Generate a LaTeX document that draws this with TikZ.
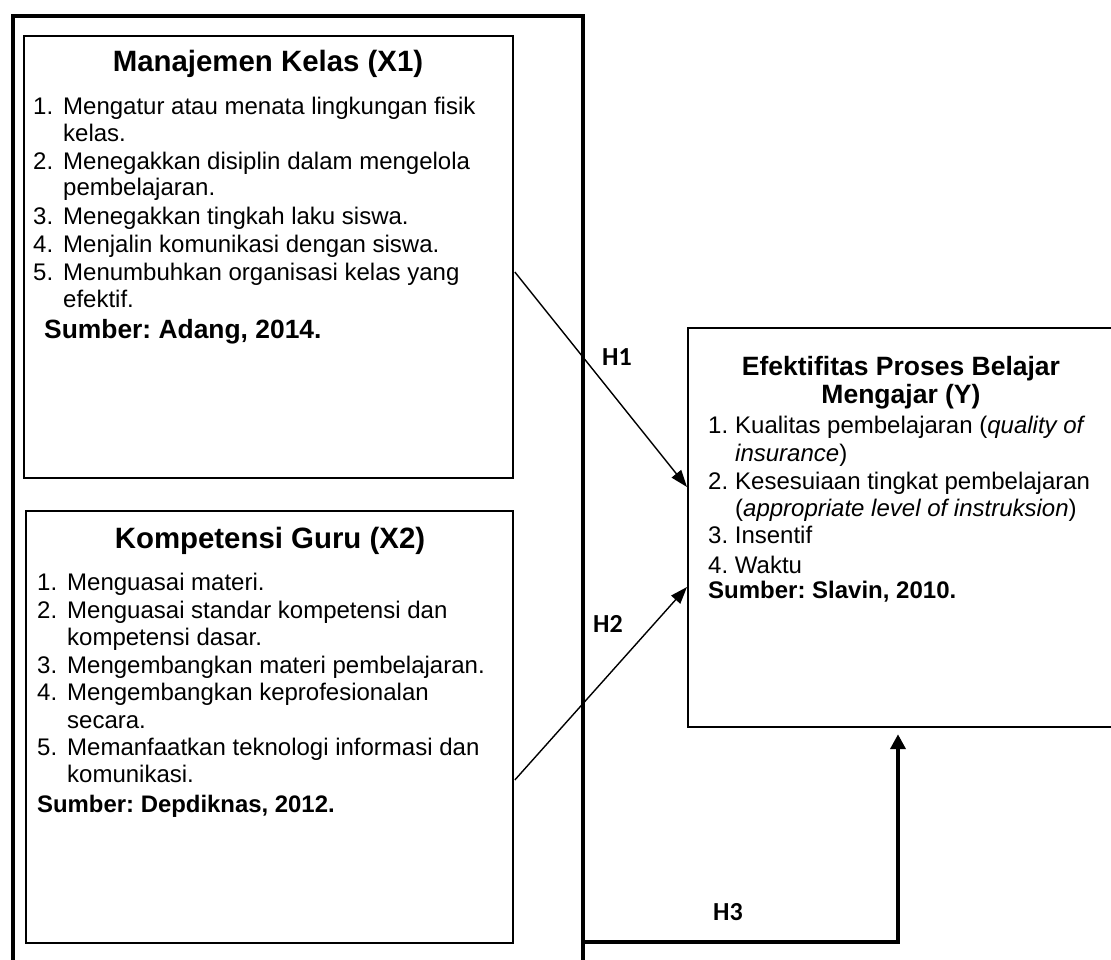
\documentclass[tikz,border=0pt]{standalone}
\usepackage{fontspec}
\setmainfont{Liberation Sans}
\newfontfamily\calib{Carlito}
\usetikzlibrary{arrows.meta,calc}
\frenchspacing
\newcommand\lstxt{\fontsize{24pt}{27pt}\selectfont}
\newcommand\ttltxt{\fontsize{29.4pt}{32pt}\selectfont\bfseries}
\newcommand\yttltxt{\fontsize{26.5pt}{28pt}\selectfont\bfseries}
\begin{document}
\begin{tikzpicture}[x=1pt,y=-1pt,
  box/.style={draw, line width=1.8pt, anchor=north west, inner sep=0pt},
  txt/.style={anchor=base west, inner sep=0pt, font=\lstxt},
  ttl/.style={anchor=base, inner sep=0pt, font=\ttltxt},
  yttl/.style={anchor=base, inner sep=0pt, font=\yttltxt},
  hlab/.style={inner sep=0pt, font=\calib\bfseries\fontsize{26pt}{28pt}\selectfont},
  thinarr/.style={line width=1.4pt, -{Triangle[length=17pt,width=12pt]}},
  thickarr/.style={line width=4pt, -{Triangle[length=15pt,width=15pt]}}]
\useasboundingbox (0,0) rectangle (1111,960);
\clip (0,0) rectangle (1111,960);
% boxes
\node[box, line width=4pt, minimum width=570pt, minimum height=980pt] (outer) at (11,14) {};
\node[box, minimum width=489pt, minimum height=442pt] (X1) at (23,35) {};
\node[box, minimum width=487pt, minimum height=432pt] (X2) at (25,510) {};
\node[box, line width=2.2pt, minimum width=450pt, minimum height=399pt] (Y) at (687,327) {};
% X1 text
\node[ttl] (t1) at (268,72) {Manajemen Kelas (X1)};
\node[txt] (a1n) at (33,115) {1.};
\node[txt] (a1) at (63,115) {Mengatur atau menata lingkungan fisik};
\node[txt] (a1b) at (63,142) {kelas.};
\node[txt] (a2n) at (33,170) {2.};
\node[txt] (a2) at (63,170) {Menegakkan disiplin dalam mengelola};
\node[txt] (a2b) at (63,196) {pembelajaran.};
\node[txt] (a3n) at (33,225) {3.};
\node[txt] (a3) at (63,225) {Menegakkan tingkah laku siswa.};
\node[txt] (a4n) at (33,252) {4.};
\node[txt] (a4) at (63,252) {Menjalin komunikasi dengan siswa.};
\node[txt] (a5n) at (33,280) {5.};
\node[txt] (a5) at (63,280) {Menumbuhkan organisasi kelas yang};
\node[txt] (a5b) at (63,307) {efektif.};
\node[txt, font=\fontsize{26.4pt}{28pt}\selectfont\bfseries] (as) at (44,338) {Sumber: Adang, 2014.};
% X2 text
\node[ttl] (t2) at (270,548) {Kompetensi Guru (X2)};
\node[txt] (b1n) at (37,590) {1.};
\node[txt] (b1) at (67,590) {Menguasai materi.};
\node[txt] (b2n) at (37,618) {2.};
\node[txt] (b2) at (67,618) {Menguasai standar kompetensi dan};
\node[txt] (b2b) at (67,645) {kompetensi dasar.};
\node[txt] (b3n) at (37,673) {3.};
\node[txt] (b3) at (67,673) {Mengembangkan materi pembelajaran.};
\node[txt] (b4n) at (37,700) {4.};
\node[txt] (b4) at (67,700) {Mengembangkan keprofesionalan};
\node[txt] (b4b) at (67,728) {secara.};
\node[txt] (b5n) at (37,755) {5.};
\node[txt] (b5) at (67,755) {Memanfaatkan teknologi informasi dan};
\node[txt] (b5b) at (67,782) {komunikasi.};
\node[txt, font=\fontsize{23.9pt}{26pt}\selectfont\bfseries] (bs) at (37,812) {Sumber: Depdiknas, 2012.};
% Y text
\node[yttl] (ty1) at (901,375) {Efektifitas Proses Belajar};
\node[yttl] (ty2) at (901,403) {Mengajar (Y)};
\node[txt] (c1n) at (708,433) {1.};
\node[txt] (c1) at (735,433) {Kualitas pembelajaran (\textit{quality of}};
\node[txt] (c1b) at (735,461) {\textit{insurance})};
\node[txt] (c2n) at (708,489) {2.};
\node[txt] (c2) at (735,489) {Kesesuiaan tingkat pembelajaran};
\node[txt] (c2b) at (735,516) {(\textit{appropriate level of instruksion})};
\node[txt] (c3) at (708,543) {3. Insentif};
\node[txt] (c4) at (708,573) {4. Waktu};
\node[txt, font=\lstxt\bfseries] (cs) at (708,598) {Sumber: Slavin, 2010.};
% connectors
\draw[thinarr] ($(X1.north east)+(1,237)$) -- ($(Y.north west)+(0,160)$);
\draw[thinarr] ($(X2.north east)+(1,270)$) -- ($(Y.north west)+(0,260)$);
\coordinate (h3c) at ($(outer.north east)+(0,928)$);
\coordinate (h3k) at (898,942);
\draw[thickarr] (h3c) -- (h3k) -- ($(h3k |- Y.south)+(0,6)$);
% labels
\node[hlab] (H1) at (617,357) {H1};
\node[hlab] (H2) at (608,624) {H2};
\node[hlab] (H3) at (728,912) {H3};
\end{tikzpicture}
\end{document}
